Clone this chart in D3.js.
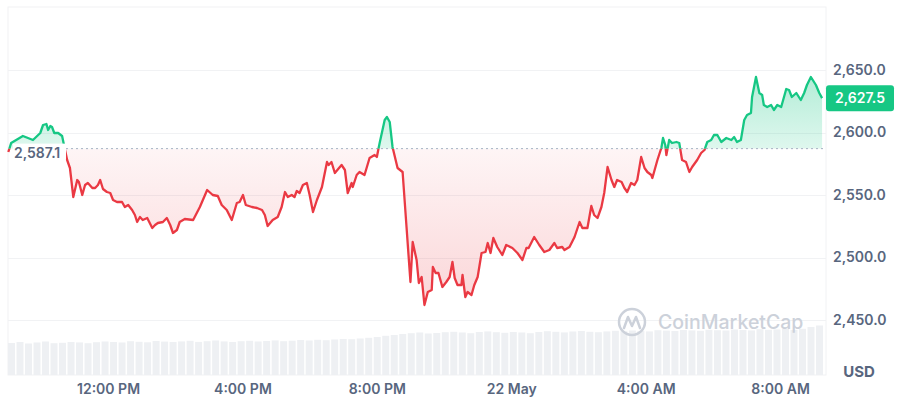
<!DOCTYPE html>
<html><head><meta charset="utf-8">
<script src="https://cdn.jsdelivr.net/npm/d3@7"></script>
<style>html,body{margin:0;padding:0;background:#fff;}svg{display:block;font-family:Inter,"Noto Sans",sans-serif;}</style>
</head><body><svg id="c" width="900" height="400"></svg>
<script>
// minutes after 00:00, 21 May
const times = [
542,547,568,586,599,604,610,613,617,620,
624,631,638,647,652,658,665,668,674,679,
684,692,697,702,706,711,718,724,729,736,
745,750,756,763,768,772,777,782,790,799,
804,809,818,825,831,836,843,848,857,872,
884,897,907,916,923,932,941,950,955,961,
966,977,986,995,1000,1005,1014,1023,1030,1036,
1041,1048,1053,1057,1062,1068,1075,1080,1086,1093,
1102,1111,1114,1119,1125,1137,1143,1148,1155,1157,
1164,1169,1178,1187,1196,1200,1205,1214,1218,1223,
1228,1237,1246,1253,1260,1264,1271,1275,1280,1285,
1291,1298,1300,1305,1310,1317,1324,1330,1335,1339,
1344,1351,1353,1358,1362,1369,1374,1380,1387,1394,
1398,1403,1408,1415,1424,1431,1442,1451,1460,1467,
1471,1481,1490,1499,1508,1517,1522,1531,1535,1544,
1553,1562,1567,1576,1583,1588,1594,1601,1606,1612,
1619,1624,1629,1637,1642,1647,1654,1660,1665,1672,
1678,1683,1690,1692,1701,1708,1711,1715,1717,1722,
1727,1735,1740,1745,1752,1758,1763,1772,1779,1785,
1790,1797,1802,1808,1815,1824,1833,1838,1843,1850,
1856,1861,1868,1870,1877,1883,1888,1891,1897,1904,
1909,1915,1922,1931,1936,1941,1949,1957,1963,1968,
1975,1984,1990,1995];
const prices = [
2584.4,2591.6,2597.2,2594,2599.6,2606,2606.8,2602,2605.2,2604.4,
2599.6,2599.6,2597.2,2578,2571.6,2548.4,2562,2560.4,2550,2558,
2559.6,2555.6,2555.6,2558,2562,2554.8,2552.4,2551.6,2546,2544.4,
2544.4,2540.4,2542,2538,2534,2528.4,2532.4,2530,2531.6,2523.6,
2526,2527.6,2528.4,2531.6,2526,2519.6,2522,2528.4,2530.8,2530,
2540.4,2554,2550,2549.2,2542,2538,2530,2543.6,2544.4,2550,
2542,2540.4,2539.6,2538,2534,2525.2,2530,2532.4,2540.4,2552.4,
2548.4,2550,2548.4,2553.2,2551.6,2558,2559.6,2550,2536.4,2546,
2556.4,2576.4,2574,2576.4,2567.6,2574,2570,2551.6,2559.6,2556.4,
2566,2568.4,2566,2579.6,2582,2580.4,2591.6,2610,2612.4,2608.4,
2588.4,2571.6,2568.4,2524.4,2480.4,2512.4,2498,2479.6,2484.4,2462,
2472.4,2474,2492.4,2487.6,2487.6,2476.4,2480.4,2484.4,2496.4,2483.6,
2478,2478,2486,2468.4,2472.4,2470,2478,2484.4,2503.6,2504.4,
2511.6,2503.6,2515.6,2508.4,2502,2510,2507.6,2503.6,2498,2507.6,
2507.6,2516.4,2510,2504.4,2506,2511.6,2507.6,2508.4,2506,2508.4,
2516.4,2528.4,2523.6,2523.6,2541.2,2534,2531.6,2540.4,2551.6,2572.4,
2562,2556.4,2562,2560.4,2555.6,2552.4,2559.6,2558,2562,2580.4,
2571.6,2568.4,2566,2563.6,2578,2587.6,2595.6,2590,2582,2594,
2591.6,2592.4,2591.6,2578,2576.4,2568.4,2572.4,2578,2583.6,2586,
2592.4,2594,2598,2598,2592.4,2595.6,2594,2596.4,2592.4,2594,
2610,2614,2615.6,2628.4,2644.4,2631.6,2630,2622,2620.4,2622,
2618,2622,2620.4,2634.8,2634,2628.4,2631.6,2626,2631.6,2638,
2644.4,2638,2631.6,2627.5];
const volumes = [
320,330,315,325,335,318,322,330,326,318,
328,335,330,325,338,332,327,340,334,330,
336,342,331,338,345,336,330,338,342,335,
340,346,338,343,350,345,352,348,355,360,
358,365,372,380,392,400,410,418,425,415,
420,428,432,425,418,430,436,428,422,430,
425,418,430,438,432,426,435,440,432,428,
436,442,438,445,440,436,448,444,440,450,
446,442,452,448,445,455,450,446,458,452,
455,460,450,462,480,495];
const openPrice = 2587.1;
const lastPrice = 2627.5;
const yTicks = [2450, 2500, 2550, 2600, 2650];
const xTickMinutes = [720, 960, 1200, 1440, 1680, 1920];
const xTickLabels = ["12:00 PM", "4:00 PM", "8:00 PM", "22 May", "4:00 AM", "8:00 AM"];

const base = new Date(2024, 4, 21).getTime();
const toDate = m => new Date(base + m * 60000);
const data = times.map((t, i) => ({ t: toDate(t), p: prices[i] }));

const L = 8, R = 826, T = 7, B = 375;
const x = d3.scaleTime().domain([toDate(541.4), toDate(2002)]).range([L, R]);
const y = d3.scaleLinear().domain([2450, 2650]).range([320, 70]);
const xb = d3.scaleBand().domain(d3.range(volumes.length)).range([L, 823]).paddingInner(0.18);
const yv = d3.scaleLinear().domain([0, 500]).range([B, 325]);

const svg = d3.select("#c");
const defs = svg.append("defs");
const RED = "#ea3943", GREEN = "#16c784", TXT = "#58667e";
const by = y(openPrice);

defs.append("clipPath").attr("id", "above").append("rect").attr("x", 0).attr("y", 0).attr("width", 900).attr("height", by);
defs.append("clipPath").attr("id", "below").append("rect").attr("x", 0).attr("y", by).attr("width", 900).attr("height", 400 - by);
const gG = defs.append("linearGradient").attr("id", "gG").attr("gradientUnits", "userSpaceOnUse")
  .attr("x1", 0).attr("x2", 0).attr("y1", y(2650)).attr("y2", by);
gG.append("stop").attr("offset", 0).attr("stop-color", GREEN).attr("stop-opacity", 0.34);
gG.append("stop").attr("offset", 1).attr("stop-color", GREEN).attr("stop-opacity", 0.14);
const gR = defs.append("linearGradient").attr("id", "gR").attr("gradientUnits", "userSpaceOnUse")
  .attr("x1", 0).attr("x2", 0).attr("y1", by).attr("y2", y(2460));
gR.append("stop").attr("offset", 0).attr("stop-color", RED).attr("stop-opacity", 0.05);
gR.append("stop").attr("offset", 1).attr("stop-color", RED).attr("stop-opacity", 0.21);

// frame
svg.append("rect").attr("x", L).attr("y", T).attr("width", R - L).attr("height", B - T)
  .attr("fill", "none").attr("stroke", "#f1f2f4").attr("stroke-width", 1);
// grid
svg.append("g").selectAll("line").data(yTicks).join("line")
  .attr("x1", L).attr("x2", R).attr("y1", d => Math.round(y(d)) + 0.5).attr("y2", d => Math.round(y(d)) + 0.5)
  .attr("stroke", "#f1f2f4");

// volume
svg.append("g").selectAll("rect").data(volumes).join("rect")
  .attr("x", (d, i) => xb(i)).attr("width", xb.bandwidth())
  .attr("y", d => yv(d)).attr("height", d => B - yv(d)).attr("fill", "#eef0f3");

// watermark
const wm = svg.append("g");
const WM = "#ccd1da";
wm.append("circle").attr("cx", 632).attr("cy", 322).attr("r", 13).attr("fill", "none").attr("stroke", WM).attr("stroke-width", 2.5);
wm.append("path").attr("d", "M624,328 L628,317 L632,326 L636,317 L640,328").attr("fill", "none").attr("stroke", WM).attr("stroke-width", 2.5).attr("stroke-linejoin", "round").attr("stroke-linecap", "round");
wm.append("text").attr("x", 658).attr("y", 322).attr("dy", "0.35em").attr("font-size", 19.5).attr("font-weight", 500)
  .attr("fill", WM).text("CoinMarketCap");

// areas
const area = d3.area().x(d => x(d.t)).y0(by).y1(d => y(d.p));
svg.append("path").datum(data).attr("d", area).attr("fill", "url(#gG)").attr("clip-path", "url(#above)");
svg.append("path").datum(data).attr("d", area).attr("fill", "url(#gR)").attr("clip-path", "url(#below)");

// baseline
svg.append("line").attr("x1", 66).attr("x2", 823).attr("y1", by).attr("y2", by)
  .attr("stroke", "#a6b0c3").attr("stroke-width", 1).attr("stroke-dasharray", "2,3");

// lines
const line = d3.line().x(d => x(d.t)).y(d => y(d.p));
svg.append("path").datum(data).attr("d", line).attr("fill", "none").attr("stroke", GREEN).attr("stroke-width", 2.3).attr("stroke-linejoin", "round").attr("clip-path", "url(#above)");
svg.append("path").datum(data).attr("d", line).attr("fill", "none").attr("stroke", RED).attr("stroke-width", 2.3).attr("stroke-linejoin", "round").attr("clip-path", "url(#below)");

// open label
svg.append("rect").attr("x", 13).attr("y", by - 5).attr("width", 53).attr("height", 16).attr("fill", "#fff");
svg.append("text").attr("x", 14).attr("y", by + 4).attr("dy", "0.35em").attr("font-size", 14).attr("font-weight", 600)
  .attr("fill", TXT).text(d3.format(",.1f")(openPrice));

// y axis
const ya = svg.append("g").attr("transform", `translate(${R},0)`)
  .call(d3.axisRight(y).tickValues(yTicks).tickFormat(d3.format(",.1f")).tickSize(0).tickPadding(7));
ya.select(".domain").remove();
ya.selectAll("text").attr("font-size", 14).attr("font-weight", 600).attr("fill", TXT).attr("font-family", "Inter,sans-serif");

// last price tag
svg.append("rect").attr("x", 826).attr("y", y(lastPrice) - 13).attr("width", 68).attr("height", 26).attr("rx", 3).attr("fill", GREEN);
svg.append("text").attr("x", 860).attr("y", y(lastPrice)).attr("dy", "0.35em").attr("text-anchor", "middle")
  .attr("font-size", 14).attr("font-weight", 600).attr("fill", "#fff").text(d3.format(",.1f")(lastPrice));

svg.append("text").attr("x", 859).attr("y", 372).attr("dy", "0.35em").attr("text-anchor", "middle")
  .attr("font-size", 15).attr("font-weight", 700).attr("fill", TXT).text("USD");

// x axis
const xa = svg.append("g").attr("transform", `translate(0,${B})`)
  .call(d3.axisBottom(x).tickValues(xTickMinutes.map(toDate)).tickFormat((d, i) => xTickLabels[i]).tickSize(0).tickPadding(9));
xa.select(".domain").remove();
xa.selectAll("text").attr("font-size", 14).attr("font-weight", 600).attr("fill", TXT).attr("font-family", "Inter,sans-serif");
</script></body></html>
